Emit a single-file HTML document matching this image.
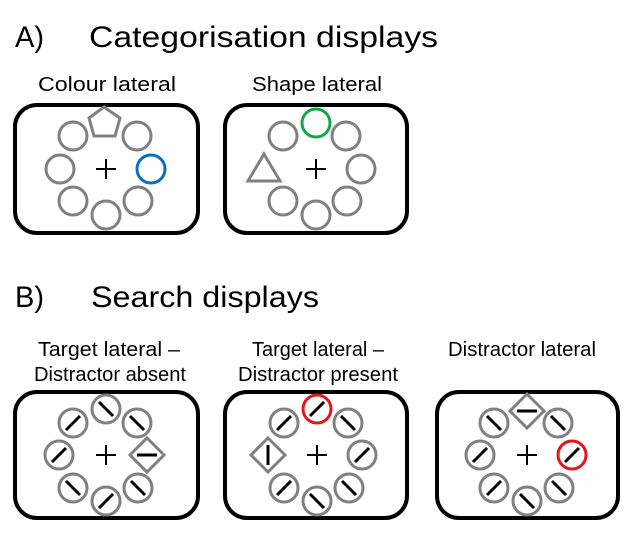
<!DOCTYPE html>
<html><head><meta charset="utf-8"><style>
html,body{margin:0;padding:0;background:#fff;}
svg{display:block;}
text{font-family:"Liberation Sans",sans-serif;fill:#000;}
</style></head><body>
<svg width="630" height="551" viewBox="0 0 630 551" xmlns="http://www.w3.org/2000/svg">
<defs>
<g id="c"><circle r="14" fill="none" stroke="#808080" stroke-width="3"/></g>
<g id="f"><circle r="14" fill="none" stroke="#808080" stroke-width="3"/><line x1="-7" y1="7" x2="7" y2="-7" stroke="#000" stroke-width="3"/></g>
<g id="b"><circle r="14" fill="none" stroke="#808080" stroke-width="3"/><line x1="-7" y1="-7" x2="7" y2="7" stroke="#000" stroke-width="3"/></g>
<g id="rf"><circle r="14" fill="none" stroke="#e8141c" stroke-width="3"/><line x1="-7" y1="7" x2="7" y2="-7" stroke="#000" stroke-width="3"/></g>
<g id="p"><line x1="-10" y1="0" x2="10" y2="0" stroke="#000" stroke-width="2"/><line x1="0" y1="-10" x2="0" y2="10" stroke="#000" stroke-width="2"/></g>
<g id="dh"><polygon points="0,-17 17,0 0,17 -17,0" fill="none" stroke="#808080" stroke-width="3"/><line x1="-10" y1="0" x2="10" y2="0" stroke="#000" stroke-width="3"/></g>
<g id="dv"><polygon points="0,-17 17,0 0,17 -17,0" fill="none" stroke="#808080" stroke-width="3"/><line x1="0" y1="-10" x2="0" y2="10" stroke="#000" stroke-width="3"/></g>
</defs>

<text x="15" y="47" font-size="30" textLength="29" lengthAdjust="spacingAndGlyphs">A)</text>
<text x="89" y="47" font-size="30" textLength="349" lengthAdjust="spacingAndGlyphs">Categorisation displays</text>
<text x="38" y="91" font-size="20" textLength="138" lengthAdjust="spacingAndGlyphs">Colour lateral</text>
<text x="252" y="91" font-size="20" textLength="130" lengthAdjust="spacingAndGlyphs">Shape lateral</text>

<rect x="15" y="105" width="183" height="128" rx="22" fill="none" stroke="#000" stroke-width="4"/>
<rect x="225" y="105" width="182" height="128" rx="22" fill="none" stroke="#000" stroke-width="4"/>

<!-- box A1 -->
<g transform="translate(106,169)">
<polygon points="-2,-62 14,-51 9,-33 -12,-33 -17,-51" fill="none" stroke="#808080" stroke-width="3"/>
<use href="#c" x="-33" y="-33"/><use href="#c" x="31" y="-33"/>
<use href="#c" x="-46" y="0"/><circle cx="45" cy="0" r="14" fill="none" stroke="#0a6ebd" stroke-width="3"/>
<use href="#c" x="-33" y="32"/><use href="#c" x="0" y="46"/><use href="#c" x="32" y="32"/>
<use href="#p"/>
</g>
<!-- box A2 -->
<g transform="translate(316,169)">
<circle cx="0" cy="-46" r="14" fill="none" stroke="#12a84a" stroke-width="3"/>
<use href="#c" x="-33" y="-33"/><use href="#c" x="30" y="-33"/>
<polygon points="-52,-15 -36,12 -68,12" fill="none" stroke="#808080" stroke-width="3"/>
<use href="#c" x="45" y="0"/>
<use href="#c" x="-33" y="32"/><use href="#c" x="0" y="46"/><use href="#c" x="31" y="32"/>
<use href="#p"/>
</g>

<text x="15" y="307" font-size="30" textLength="29" lengthAdjust="spacingAndGlyphs">B)</text>
<text x="91" y="307" font-size="30" textLength="228" lengthAdjust="spacingAndGlyphs">Search displays</text>
<text x="38" y="356" font-size="20" textLength="142" lengthAdjust="spacingAndGlyphs">Target lateral –</text>
<text x="34" y="381" font-size="20" textLength="152" lengthAdjust="spacingAndGlyphs">Distractor absent</text>
<text x="252" y="356" font-size="20" textLength="132" lengthAdjust="spacingAndGlyphs">Target lateral –</text>
<text x="238" y="381" font-size="20" textLength="160" lengthAdjust="spacingAndGlyphs">Distractor present</text>
<text x="448" y="356" font-size="20" textLength="148" lengthAdjust="spacingAndGlyphs">Distractor lateral</text>

<rect x="15" y="392" width="183" height="126" rx="22" fill="none" stroke="#000" stroke-width="4"/>
<rect x="225" y="392" width="182" height="126" rx="22" fill="none" stroke="#000" stroke-width="4"/>
<rect x="437" y="392" width="181" height="126" rx="22" fill="none" stroke="#000" stroke-width="4"/>

<g transform="translate(106,455)">
<use href="#b" x="0" y="-46"/><use href="#f" x="-33" y="-32"/><use href="#b" x="31" y="-32"/>
<use href="#f" x="-47" y="0"/><use href="#dh" x="41" y="0"/>
<use href="#b" x="-33" y="33"/><use href="#f" x="0" y="46"/><use href="#b" x="32" y="33"/>
<use href="#p"/>
</g>
<g transform="translate(317,455)">
<use href="#rf" x="0" y="-46"/><use href="#f" x="-33" y="-32"/><use href="#b" x="31" y="-32"/>
<use href="#dv" x="-49" y="0"/><use href="#f" x="45" y="0"/>
<use href="#f" x="-33" y="33"/><use href="#b" x="0" y="46"/><use href="#b" x="32" y="33"/>
<use href="#p"/>
</g>
<g transform="translate(527,455)">
<use href="#dh" x="0" y="-44"/><use href="#b" x="-33" y="-32"/><use href="#b" x="31" y="-32"/>
<use href="#f" x="-47" y="0"/><use href="#rf" x="45" y="0"/>
<use href="#f" x="-33" y="33"/><use href="#b" x="0" y="46"/><use href="#b" x="32" y="33"/>
<use href="#p"/>
</g>
</svg>
</body></html>
